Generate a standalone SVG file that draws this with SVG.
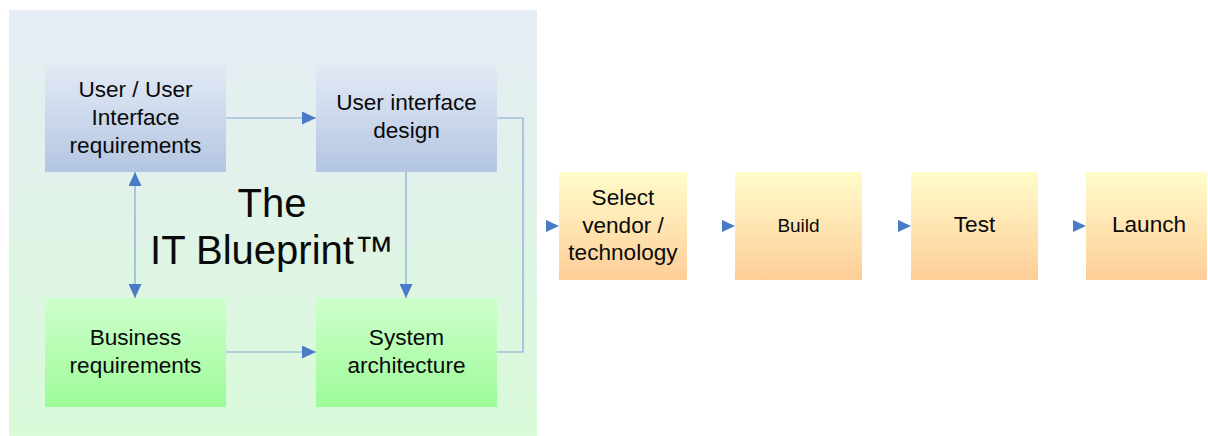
<svg xmlns="http://www.w3.org/2000/svg" width="1208" height="436" viewBox="0 0 1208 436">
<defs>
<linearGradient id="gPanel" x1="0" y1="0" x2="0" y2="1"><stop offset="0" stop-color="#e6ecf5"/><stop offset="1" stop-color="#d9fbd9"/></linearGradient>
<linearGradient id="gBlue" x1="0" y1="0" x2="0" y2="1"><stop offset="0" stop-color="#e3eaf5"/><stop offset="1" stop-color="#b3c5e2"/></linearGradient>
<linearGradient id="gGreen" x1="0" y1="0" x2="0" y2="1"><stop offset="0" stop-color="#ceffcc"/><stop offset="1" stop-color="#9dfb98"/></linearGradient>
<linearGradient id="gOrange" x1="0" y1="0" x2="0" y2="1"><stop offset="0" stop-color="#fffdcb"/><stop offset="1" stop-color="#fecd98"/></linearGradient>
<marker id="ah" markerUnits="userSpaceOnUse" markerWidth="14" markerHeight="13" refX="14" refY="6.5" orient="auto-start-reverse"><path d="M0,0 L14,6.5 L0,13 z" fill="#4a7bc6"/></marker>
<style>
.t{font-family:"Liberation Sans",Arial,sans-serif;font-size:22.6px;fill:#0a0a0a;text-anchor:middle}
.c{fill:none;stroke:#85a6d8;stroke-width:1.2}
.h{fill:#4a7bc6}
</style>
</defs>
<rect x="9" y="10" width="528" height="426" fill="url(#gPanel)"/>
<g id="title"><text class="t" x="272" y="217" style="font-size:40px">The</text><text class="t" x="272" y="264" style="font-size:40px">IT Blueprint™</text></g>
<g id="connectors">
<line class="c" x1="226" y1="118" x2="316" y2="118" marker-end="url(#ah)"/>
<polyline class="c" points="497,118 523,118 523,352 497,352"/>
<line class="c" x1="135" y1="172" x2="135" y2="298" marker-start="url(#ah)" marker-end="url(#ah)"/>
<line class="c" x1="406" y1="172" x2="406" y2="298" marker-end="url(#ah)"/>
<line class="c" x1="226" y1="352" x2="316" y2="352" marker-end="url(#ah)"/>
<polygon class="h" points="546,220 559,226 546,232"/>
<polygon class="h" points="722,220 735,226 722,232"/>
<polygon class="h" points="898,220 911,226 898,232"/>
<polygon class="h" points="1073,220 1086,226 1073,232"/>
</g>
<g id="uuir"><rect x="45" y="65" width="181" height="107" fill="url(#gBlue)"/><text class="t" x="135.5" y="97">User / User</text><text class="t" x="135.5" y="125">Interface</text><text class="t" x="135.5" y="153">requirements</text></g>
<g id="uid"><rect x="316" y="65" width="181" height="107" fill="url(#gBlue)"/><text class="t" x="406.5" y="110">User interface</text><text class="t" x="406.5" y="138">design</text></g>
<g id="business"><rect x="45" y="298" width="181" height="109" fill="url(#gGreen)"/><text class="t" x="135.5" y="345">Business</text><text class="t" x="135.5" y="373">requirements</text></g>
<g id="sysarch"><rect x="316" y="298" width="181" height="109" fill="url(#gGreen)"/><text class="t" x="406.5" y="345">System</text><text class="t" x="406.5" y="373">architecture</text></g>
<g id="select"><rect x="559" y="172" width="128" height="108" fill="url(#gOrange)"/><text class="t" x="623" y="205">Select</text><text class="t" x="623" y="233">vendor /</text><text class="t" x="623" y="260">technology</text></g>
<g id="build"><rect x="735" y="172" width="127" height="108" fill="url(#gOrange)"/><text class="t" x="798.5" y="232" style="font-size:19px">Build</text></g>
<g id="test"><rect x="911" y="172" width="127" height="108" fill="url(#gOrange)"/><text class="t" x="974.5" y="232">Test</text></g>
<g id="launch"><rect x="1086" y="172" width="121" height="108" fill="url(#gOrange)"/><text class="t" x="1149" y="232">Launch</text></g>
</svg>
